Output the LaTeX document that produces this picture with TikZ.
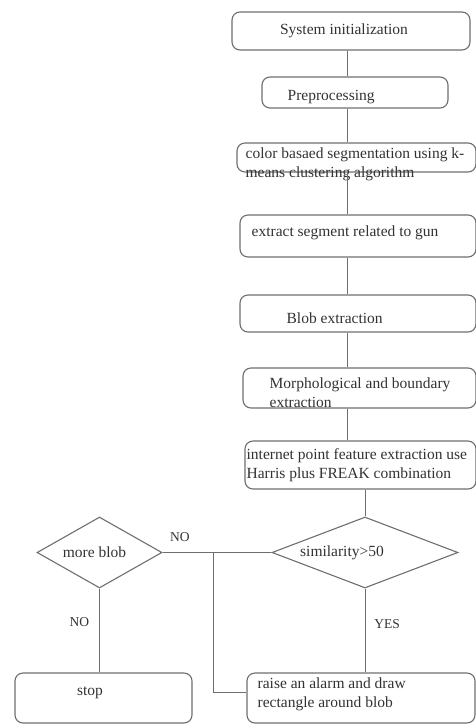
\documentclass[tikz,border=0pt]{standalone}
\usepackage{fontspec}
\setmainfont{Liberation Serif}
\usepackage{tikz}
\usetikzlibrary{shapes.geometric, positioning, calc}

\definecolor{linegray}{RGB}{110,110,110}
\definecolor{textgray}{RGB}{50,50,50}

\begin{document}
\begin{tikzpicture}[
    x=1pt, y=-1pt,
    box/.style={
        draw=linegray, line width=1.1pt, rounded corners=8pt,
        inner sep=0pt
    },
    dec/.style={
        draw=linegray, line width=1.1pt, diamond,
        inner sep=0pt
    },
    txt/.style={
        font=\fontsize{15.5}{19}\selectfont, text=textgray,
        inner sep=0pt, align=left
    },
    link/.style={draw=linegray, line width=0.9pt},
    lbl/.style={font=\fontsize{13.5}{15}\selectfont, text=textgray, inner sep=0pt}
]
    \useasboundingbox (0,0) rectangle (476,724);
    \coordinate (spine) at (347,0);

    % Main column of steps
    \node[box, minimum width=238pt, minimum height=38pt] (init) at (351,31) {};
    \node[txt] (t-init) at ([xshift=-7pt]init.center) {System initialization};

    \node[box, minimum width=186pt, minimum height=31pt] (pre) at (355,92.5) {};
    \node[txt, anchor=west] (t-pre) at ([xshift=26pt,yshift=-4.5pt]pre.west) {Preprocessing};

    \node[box, minimum width=239pt, minimum height=29pt] (color) at (356.5,157.5) {};
    \node[txt, anchor=west] (t-color) at ([xshift=9pt,yshift=-7pt]color.west)
        {color basaed segmentation using k-\\means clustering algorithm};

    \node[box, minimum width=236pt, minimum height=42pt] (extract) at (358,236) {};
    \node[txt, anchor=west] (t-extract) at ([xshift=12pt,yshift=3pt]extract.west)
        {extract segment related to gun};

    \node[box, minimum width=236pt, minimum height=37pt] (blob) at (358,313.5) {};
    \node[txt, anchor=west] (t-blob) at ([xshift=47pt,yshift=-4.5pt]blob.west) {Blob extraction};

    \node[box, minimum width=233pt, minimum height=40pt] (morph) at (359.5,388) {};
    \node[txt, anchor=west] (t-morph) at ([xshift=27pt,yshift=-5pt]morph.west)
        {Morphological and boundary\\extraction};

    \node[box, minimum width=231pt, minimum height=48pt] (intern) at (360.5,465) {};
    \node[txt, anchor=west] (t-intern) at ([xshift=2pt]intern.west)
        {internet point feature extraction use\\Harris plus FREAK combination};

    % Decisions
    \node[dec, minimum width=186pt, minimum height=71pt] (sim) at (365,552.5) {};
    \node[txt] (t-sim) at ([xshift=-23pt]sim.center) {similarity>50};

    \node[dec, minimum width=125pt, minimum height=71pt] (more) at (99.5,552.5) {};
    \node[txt] (t-more) at ([xshift=-5pt]more.center) {more blob};

    % Outcomes
    \node[box, minimum width=228pt, minimum height=50pt] (raise) at (361,698) {};
    \node[txt, anchor=west] (t-raise) at ([xshift=11pt,yshift=4pt]raise.west)
        {raise an alarm and draw\\rectangle around blob};

    \node[box, minimum width=177pt, minimum height=50pt] (stop) at (103.5,698) {};
    \node[txt] (t-stop) at ([xshift=-13.5pt,yshift=5pt]stop.center) {stop};

    % Connectors
    \draw[link] (init.south -| spine) -- (pre.north -| spine);
    \draw[link] (pre.south -| spine) -- (color.north -| spine);
    \draw[link] (color.south -| spine) -- (extract.north -| spine);
    \draw[link] (extract.south -| spine) -- (blob.north -| spine);
    \draw[link] (blob.south -| spine) -- (morph.north -| spine);
    \draw[link] (morph.south -| spine) -- (intern.north -| spine);
    \draw[link] (intern.south -| sim.north) -- (sim.north);

    \draw[link] (sim.west) -- node[lbl, pos=0.84, above=10pt] {NO} (more.east);
    \coordinate (jn) at (213,552.5);
    \draw[link] (jn) |- ([yshift=5.5pt]raise.west);
    \draw[link] (sim.south) -- node[lbl, pos=0.42, right=9pt] {YES} (sim.south |- raise.north);
    \draw[link] (more.south) -- node[lbl, pos=0.4, left=10pt] {NO} (more.south |- stop.north);
\end{tikzpicture}
\end{document}
